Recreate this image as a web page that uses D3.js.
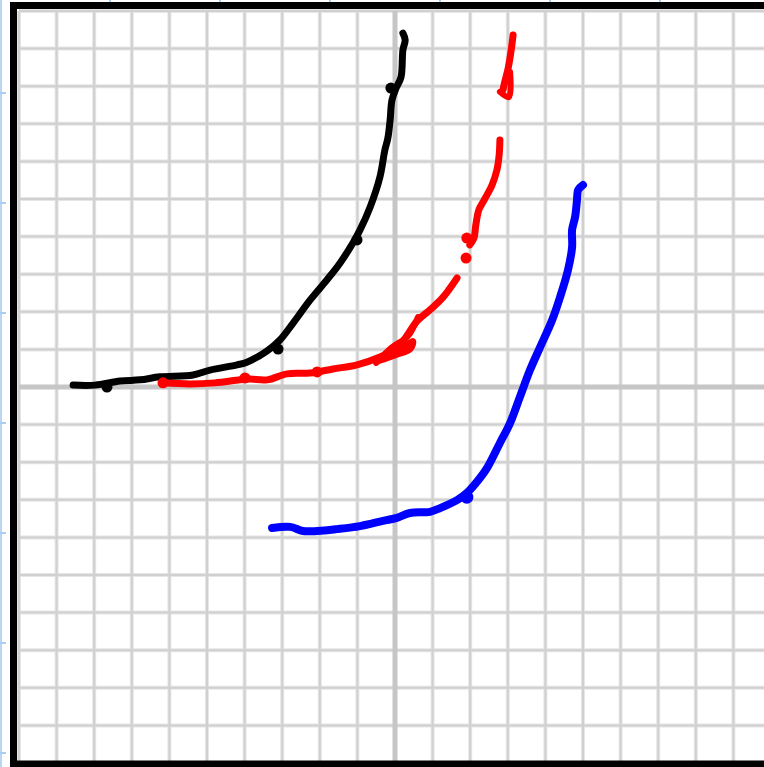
<!DOCTYPE html>
<html>
<head>
<meta charset="utf-8">
<script src="https://cdn.jsdelivr.net/npm/d3@7"></script>
<style>
  html, body { margin: 0; padding: 0; background: #fff; overflow: hidden; }
</style>
</head>
<body>
<div id="chart"></div>
<script>
// grid units: one square per unit, origin where the thick axes cross
const gridTicks = d3.range(-10, 11);
const rulerTicks = d3.range(1, 8);

const blackLine = [
  [-8.56, 0.05], [-7.98, 0.05], [-7.31, 0.16], [-6.78, 0.19], [-6.25, 0.27],
  [-5.37, 0.32], [-4.92, 0.45], [-4.20, 0.59], [-3.94, 0.66], [-3.40, 0.96],
  [-3.06, 1.25], [-2.71, 1.70], [-2.26, 2.31], [-1.81, 2.85], [-1.46, 3.30],
  [-1.12, 3.83], [-0.93, 4.18], [-0.66, 4.79], [-0.40, 5.59], [-0.27, 6.30],
  [-0.19, 6.62], [-0.13, 7.10], [-0.08, 7.63], [0.03, 7.95], [0.16, 8.24],
  [0.21, 8.96], [0.27, 9.23], [0.21, 9.41]
];
const blackDots = [[-7.66, 0.0], [-3.11, 1.01], [-1.01, 3.91], [-0.11, 7.95]];

const redLow = [
  [-6.17, 0.11], [-5.45, 0.08], [-4.79, 0.11], [-4.12, 0.19], [-3.86, 0.21],
  [-3.40, 0.19], [-2.87, 0.35], [-2.26, 0.37], [-1.65, 0.48], [-1.01, 0.59],
  [-0.40, 0.80], [-0.05, 0.98], [0.21, 1.22], [0.59, 1.76], [0.93, 2.05],
  [1.28, 2.39], [1.65, 2.90]
];
const redLoopA = [[-0.50, 0.64], [-0.10, 1.04], [0.35, 1.36], [0.61, 1.86]];
const redLoopB = [[-0.35, 0.72], [0.10, 0.96], [0.48, 1.22], [0.42, 1.02], [0.0, 0.84], [-0.40, 0.70]];
const redMid = [
  [1.99, 3.78], [2.10, 3.96], [2.15, 4.31], [2.23, 4.71], [2.37, 4.97],
  [2.58, 5.37], [2.71, 5.77], [2.77, 6.17], [2.79, 6.57]
];
const redTop = [[3.14, 9.36], [3.09, 8.96], [3.01, 8.48], [2.93, 8.16], [2.87, 7.90]];
const redTopHook = [[3.06, 8.38], [3.03, 7.71], [2.79, 7.85]];
const redDots = [[-6.17, 0.11], [-3.99, 0.24], [-2.07, 0.40], [1.89, 3.43], [1.91, 3.96]];

const blueLine = [
  [-3.27, -3.75], [-2.79, -3.72], [-2.45, -3.83], [-2.07, -3.83], [-1.54, -3.78],
  [-0.93, -3.70], [-0.32, -3.56], [0.05, -3.48], [0.40, -3.35], [0.93, -3.32],
  [1.20, -3.22], [1.65, -3.01], [1.91, -2.82], [2.26, -2.42], [2.45, -2.15],
  [2.79, -1.49], [3.06, -0.96], [3.32, -0.27], [3.59, 0.45], [3.86, 1.06],
  [4.18, 1.78], [4.39, 2.39], [4.60, 3.11], [4.71, 3.72], [4.71, 4.18],
  [4.79, 4.52], [4.84, 4.97], [4.87, 5.24], [5.00, 5.37]
];
const blueDots = [[1.91, -2.93]];

const width = 764;
const height = 767;

const svg = d3
  .select("#chart")
  .append("svg")
  .attr("width", width)
  .attr("height", height);

const x = d3.scaleLinear().domain([-10, 10]).range([19, 771]);
const y = d3.scaleLinear().domain([10, -10]).range([11, 763]);

// faint blue ruler at the page edge
const rulerY = d3.scaleLinear().domain([0, 7]).range([-17, 753]);
const rulerX = d3.scaleLinear().domain([0, 7]).range([0, 770]);
svg.append("line")
  .attr("x1", 1).attr("x2", 1).attr("y1", 0).attr("y2", height)
  .attr("stroke", "#b9d6f5").attr("stroke-width", 2);
svg.append("g")
  .selectAll("line")
  .data(rulerTicks)
  .join("line")
  .attr("x1", 0).attr("x2", 6)
  .attr("y1", d => rulerY(d)).attr("y2", d => rulerY(d))
  .attr("stroke", "#a9cdf3").attr("stroke-width", 2);
svg.append("g")
  .selectAll("line")
  .data(rulerTicks.filter(d => rulerX(d) < width))
  .join("line")
  .attr("y1", 0).attr("y2", 4)
  .attr("x1", d => rulerX(d)).attr("x2", d => rulerX(d))
  .attr("stroke", "#a9cdf3").attr("stroke-width", 2);

// grid: soft halo under a thin core, like a scanned sheet
const grid = svg.append("g");
const inner = gridTicks.filter(d => d !== 0);
[["#e6e6e6", 4], ["#d0d0d0", 2]].forEach(([c, w]) => {
  grid.append("g").selectAll("line")
    .data(inner)
    .join("line")
    .attr("x1", d => x(d)).attr("x2", d => x(d))
    .attr("y1", y(10)).attr("y2", y(-10))
    .attr("stroke", c).attr("stroke-width", w);
  grid.append("g").selectAll("line")
    .data(inner)
    .join("line")
    .attr("y1", d => y(d)).attr("y2", d => y(d))
    .attr("x1", x(-10)).attr("x2", x(10))
    .attr("stroke", c).attr("stroke-width", w);
});

// thick axes through the origin
svg.append("line")
  .attr("x1", x(0)).attr("x2", x(0)).attr("y1", y(10)).attr("y2", y(-10))
  .attr("stroke", "#c6c6c6").attr("stroke-width", 5);
svg.append("line")
  .attr("y1", y(0)).attr("y2", y(0)).attr("x1", x(-10)).attr("x2", x(10))
  .attr("stroke", "#c6c6c6").attr("stroke-width", 5);

// black frame
svg.append("rect")
  .attr("x", 13.5)
  .attr("y", 5.5)
  .attr("width", 800)
  .attr("height", 758.5)
  .attr("fill", "none")
  .attr("stroke", "#000")
  .attr("stroke-width", 7);

const line = d3
  .line()
  .x(d => x(d[0]))
  .y(d => y(d[1]))
  .curve(d3.curveCatmullRom);

function stroke(points, color, w) {
  svg.append("path")
    .datum(points)
    .attr("fill", "none")
    .attr("stroke", color)
    .attr("stroke-width", w)
    .attr("stroke-linejoin", "round")
    .attr("stroke-linecap", "round")
    .attr("d", line);
}

function dots(points, color, r) {
  svg.append("g")
    .selectAll("circle")
    .data(points)
    .join("circle")
    .attr("cx", d => x(d[0]))
    .attr("cy", d => y(d[1]))
    .attr("r", r)
    .attr("fill", color);
}

stroke(blackLine, "#000", 7);
dots(blackDots, "#000", 5.5);

stroke(redLow, "#ff0000", 7);
stroke(redLoopA, "#ff0000", 6);
stroke(redLoopB, "#ff0000", 6);
stroke(redMid, "#ff0000", 7);
stroke(redTop, "#ff0000", 7);
stroke(redTopHook, "#ff0000", 6);
dots(redDots, "#ff0000", 5.5);

stroke(blueLine, "#0000ff", 8);
dots(blueDots, "#0000ff", 6.5);
</script>
</body>
</html>
